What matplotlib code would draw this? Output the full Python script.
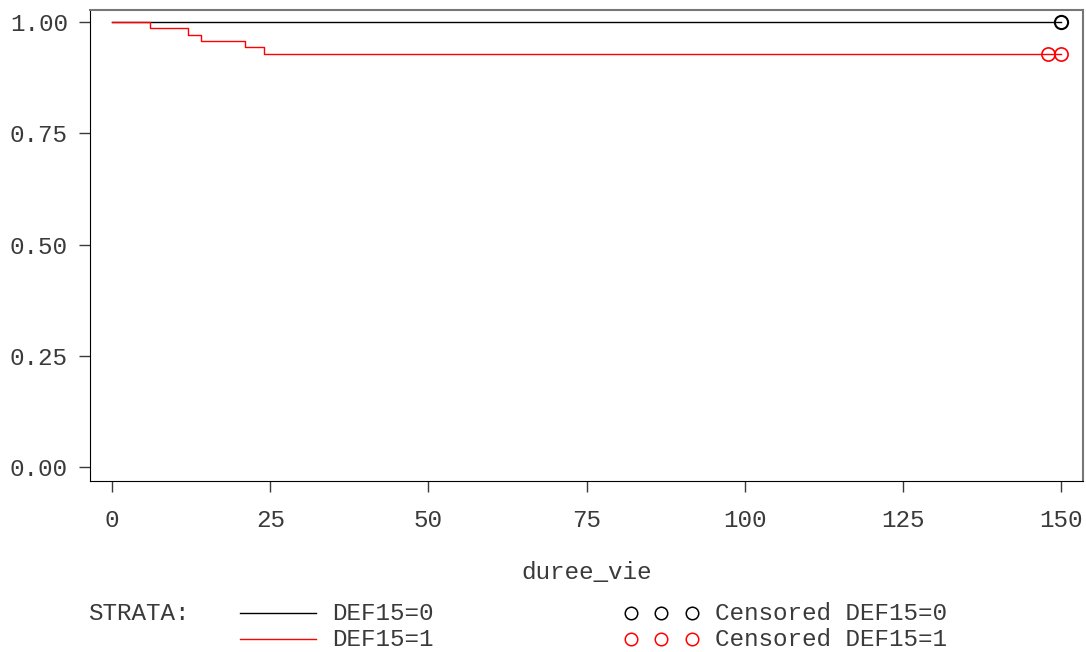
import matplotlib.pyplot as plt
from matplotlib.lines import Line2D
import numpy as np

plt.rcParams['font.family'] = ['Liberation Mono', 'DejaVu Sans Mono']

# survival estimates per stratum (step functions)
t0 = [0, 150]
s0 = [1.0, 1.0]
t1 = [0, 6, 12, 14, 21, 24, 150]
s1 = [1.0, 69/70, 68/70, 67/70, 66/70, 65/70, 65/70]

# censored observations
cens0_t = [150]
cens0_s = [1.0]
cens1_t = [148, 150]
cens1_s = [65/70, 65/70]

xticks = [0, 25, 50, 75, 100, 125, 150]
yticks = [0.0, 0.25, 0.5, 0.75, 1.0]

fs = 17.5

fig = plt.figure(figsize=(10.86, 6.52), dpi=100)
ax = fig.add_axes([0.0829, 0.2623, 0.9144, 0.7224])

ax.step(t0, s0, where='post', color='black', lw=1.0)
ax.step(t1, s1, where='post', color='red', lw=1.0)
ax.plot(cens0_t, cens0_s, 'o', mfc='none', mec='black', ms=9.5, mew=1.5)
ax.plot(cens1_t, cens1_s, 'o', mfc='none', mec='red', ms=9.5, mew=1.2)

ax.set_xlim(-3.5, 153.5)
ax.set_ylim(-0.031, 1.027)
ax.set_xticks(xticks)
ax.set_yticks(yticks)
ax.set_yticklabels(['%.2f' % v for v in yticks])
ax.tick_params(axis='x', length=8, width=1, pad=12, labelsize=fs, colors='#3a3a3a')
ax.tick_params(axis='y', length=8, width=1, pad=8, labelsize=fs, colors='#3a3a3a')

for side in ['left', 'bottom']:
    ax.spines[side].set_color('black')
for side in ['top', 'right']:
    ax.spines[side].set_color('#777777')
    ax.spines[side].set_linewidth(1.5)

ax.set_xlabel('duree_vie', fontsize=fs, labelpad=21, color='#3a3a3a')

# legend drawn in figure pixels
W, H = 1086, 652
def fx(px):
    return px / W
def fy(py):
    return 1 - py / H

fig.text(fx(88), fy(613), 'STRATA:', fontsize=fs, va='center', ha='left', color='#3a3a3a')
rows = [('black', 'DEF15=0', 613), ('red', 'DEF15=1', 639)]
for col, name, py in rows:
    fig.add_artist(Line2D([fx(240), fx(316)], [fy(py), fy(py)], color=col, lw=1.0))
    fig.text(fx(332), fy(py), name, fontsize=fs, va='center', ha='left', color='#3a3a3a')
    for cx in [631, 661, 692]:
        fig.add_artist(Line2D([fx(cx)], [fy(py)], marker='o', mfc='none', mec=col,
                              ms=9, mew=1.1, lw=0))
    fig.text(fx(715), fy(py), 'Censored ' + name, fontsize=fs, va='center', ha='left',
             color='#3a3a3a')

fig.savefig('out.png', dpi=100)
